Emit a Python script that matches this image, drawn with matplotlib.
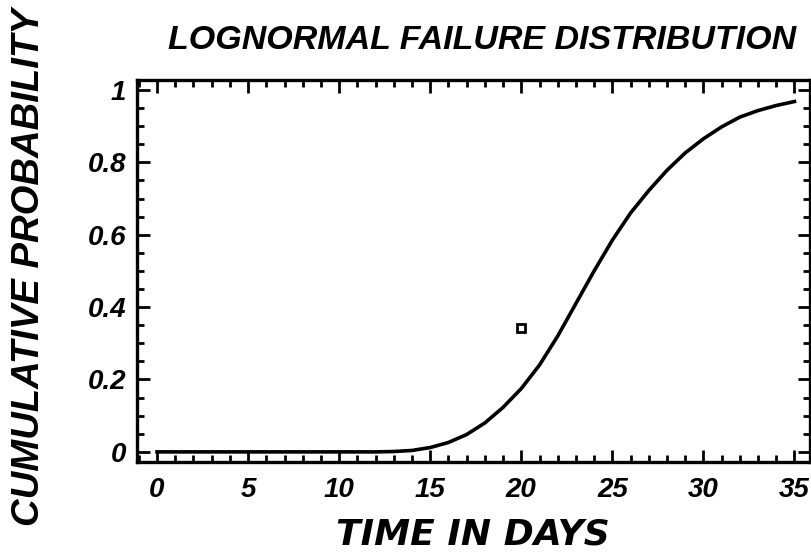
import numpy as np
import matplotlib.pyplot as plt
from matplotlib.ticker import MultipleLocator

# values (one per day)
days = np.arange(0, 36)
cum_prob = [0, 0, 0, 0, 0, 0, 0, 0, 0, 0, 0, 0, 0,
            0.001, 0.004, 0.012, 0.026, 0.048, 0.08, 0.123, 0.175,
            0.24, 0.32, 0.41, 0.50, 0.585, 0.66, 0.722, 0.778, 0.826,
            0.865, 0.898, 0.925, 0.943, 0.957, 0.968]

# single observed point
obs_day = [20]
obs_prob = [0.343]

xticks = [0, 5, 10, 15, 20, 25, 30, 35]
yticks = [0, 0.2, 0.4, 0.6, 0.8, 1]
ytick_labels = ['0', '0.2', '0.4', '0.6', '0.8', '1']

plt.rcParams['font.family'] = ['Liberation Sans', 'DejaVu Sans']
font = dict(fontweight='bold', fontstyle='italic')

fig = plt.figure(figsize=(8.12, 5.58), dpi=100)
ax = fig.add_axes([0.1687, 0.172, 0.8288, 0.685])

ax.plot(days, cum_prob, '-', color='black', lw=2.6)
ax.plot(obs_day, obs_prob, 's', color='black', mfc='white', ms=6, mew=2)

ax.set_xlim(-1.1, 35.85)
ax.set_ylim(-0.028, 1.028)

ax.set_xticks(xticks)
ax.set_yticks(yticks)
ax.set_xticklabels([str(t) for t in xticks], fontsize=20, **font)
ax.set_yticklabels(ytick_labels, fontsize=20, **font)
ax.xaxis.set_minor_locator(MultipleLocator(1))
ax.yaxis.set_minor_locator(MultipleLocator(0.05))

ax.tick_params(which='both', direction='in', top=True, right=True, width=2, color='black')
ax.tick_params(which='major', length=9)
ax.tick_params(which='minor', length=5)
ax.tick_params(axis='x', which='major', pad=11)
ax.tick_params(axis='y', which='major', pad=8)
for s in ax.spines.values():
    s.set_linewidth(2.4)

fig.text(0.594, 0.928, 'LOGNORMAL FAILURE DISTRIBUTION', ha='center', va='center',
         fontsize=24.5, **font)
fig.text(0.582, 0.043, 'TIME IN DAYS', ha='center', va='center', fontsize=26,
         family='DejaVu Sans', **font)
fig.text(0.036, 0.522, 'CUMULATIVE PROBABILITY', ha='center', va='center',
         rotation=90, fontsize=27.5, **font)

fig.savefig('out.png', dpi=100)
